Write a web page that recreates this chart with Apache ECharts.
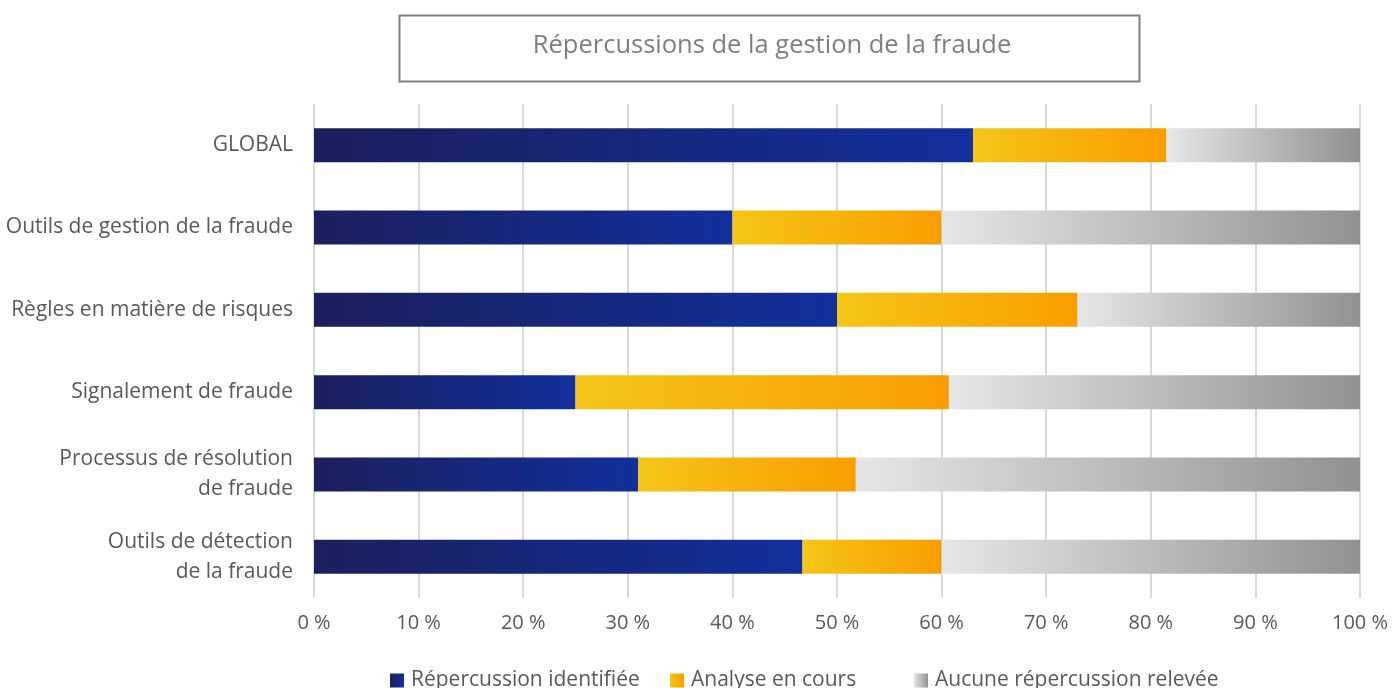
<!DOCTYPE html>
<html>
<head>
<meta charset="utf-8">
<script src="https://cdn.jsdelivr.net/npm/echarts@6/dist/echarts.min.js"></script>
<style>html,body{margin:0;padding:0;background:#fff;}#c{width:1395px;height:688px;}</style>
</head>
<body>
<div id="c"></div>
<script>
const categories = ["GLOBAL", "Outils de gestion de la fraude", "Règles en matière de risques", "Signalement de fraude", "Processus de résolution\nde fraude", "Outils de détection\nde la fraude"];
const identified = [63, 40, 50, 25, 31, 46.7];
const inProgress = [18.5, 20, 23, 35.7, 20.8, 13.3];
const noImpact = [18.5, 40, 27, 39.3, 48.2, 40];
const seriesNames = ["Répercussion identifiée", "Analyse en cours", "Aucune répercussion relevée"];
const titleText = "Répercussions de la gestion de la fraude";

const FONT = "'Open Sans', sans-serif";
function grad(a, b) {
  return new echarts.graphic.LinearGradient(0, 0, 1, 0, [{offset: 0, color: a}, {offset: 1, color: b}]);
}
const legendLefts = [385, 665, 909];
const chart = echarts.init(document.getElementById('c'), null, {renderer: 'canvas'});
chart.setOption({
  animation: false,
  backgroundColor: '#fff',
  textStyle: {fontFamily: FONT},
  title: {
    text: titleText, left: 767, top: 28, textAlign: 'center',
    textStyle: {fontFamily: FONT, fontSize: 25.5, fontWeight: 'normal', color: '#7f7f7f'}
  },
  graphic: [{
    type: 'rect', left: 397, top: 13,
    shape: {width: 740, height: 66},
    style: {fill: 'none', stroke: '#808080', lineWidth: 2}
  }],
  legend: seriesNames.map((n, i) => ({
    bottom: -8, left: legendLefts[i], itemWidth: 14, itemHeight: 14,
    icon: 'rect',
    textStyle: {fontFamily: FONT, fontSize: 21, color: '#595959', padding: [0, 0, 0, 2]},
    data: [n]
  })),
  grid: {left: 314, right: 35, top: 104, bottom: 90, containLabel: false},
  xAxis: {
    type: 'value', min: 0, max: 100, interval: 10,
    axisLabel: {formatter: '{value} %', fontSize: 20, color: '#595959', margin: 15, fontFamily: FONT},
    splitLine: {show: true, lineStyle: {color: '#d9d9d9', width: 2}},
    axisLine: {show: false}, axisTick: {show: false}
  },
  yAxis: {
    type: 'category', data: categories, inverse: true,
    axisLabel: {fontSize: 21, color: '#595959', margin: 21, lineHeight: 30, align: 'right', fontFamily: FONT},
    axisLine: {show: false}, axisTick: {show: false}
  },
  series: [
    {name: seriesNames[0], type: 'bar', stack: 's', barWidth: 34, data: identified,
     itemStyle: {color: grad('#1b1f5c', '#12309c')}},
    {name: seriesNames[1], type: 'bar', stack: 's', barWidth: 34, data: inProgress,
     itemStyle: {color: grad('#f4c518', '#f89d00')}},
    {name: seriesNames[2], type: 'bar', stack: 's', barWidth: 34, data: noImpact,
     itemStyle: {color: grad('#e6e6e6', '#919191')}}
  ]
});
</script>
</body>
</html>
